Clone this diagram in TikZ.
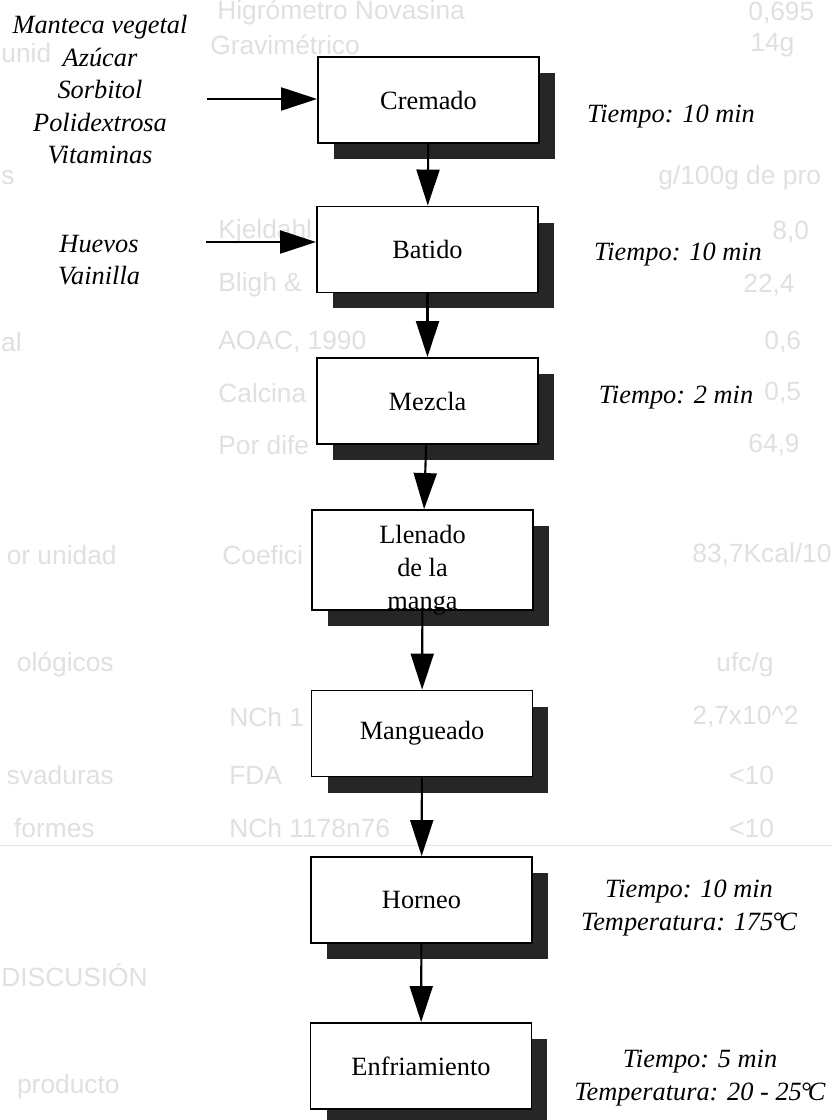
\documentclass[tikz,border=0pt]{standalone}
\usepackage{fontspec}
\setmainfont{Liberation Serif}
\newfontfamily\ghostfont{Liberation Sans}
\usetikzlibrary{arrows.meta,shadows}

\begin{document}
\begin{tikzpicture}[
  x=0.02cm, y=-0.02cm,
  proc/.style={rectangle,draw,line width=1.1pt,fill=white,minimum width=4.42cm,minimum height=1.72cm,align=center,font=\fontsize{15}{18.8}\selectfont,drop shadow={shadow xshift=0.32cm,shadow yshift=-0.32cm,fill=black!85,opacity=1}},
  note/.style={align=center,font=\fontsize{15}{18.5}\selectfont\itshape},
  ghost/.style={text=black!12,font=\ghostfont\fontsize{15}{18}\selectfont,inner sep=0pt},
  flow/.style={line width=1.2pt,-{Triangle[length=0.72cm,width=0.46cm]}}
]
  \fill[white] (0,0) rectangle (832,1120);
  \useasboundingbox (0,0) rectangle (832,1120);

  % faint print showing through the page
  \foreach \gx/\gy/\gt [count=\i] in {217/13/Higrómetro Novasina, 748/13/0{,}695,
      1/53/unid, 210/45/Gravimétrico, 750/45/14g, 658/178/{g/100g de pro},
      218/232/Kjeldahl, 772/232/8{,}0,
      218/285/Bligh \&, 743/285/22{,}4,
      218/342/AOAC{,} 1990, 764/342/0{,}6,
      218/393/Calcina, 764/393/0{,}5,
      218/445/Por dife, 748/445/64{,}9,
      222/555/Coefici, 692/555/{83{,}7Kcal/10},
      716/665/{ufc/g}, 229/717/NCh 1, 692/717/2{,}7x10\textasciicircum 2,
      229/775/FDA, 729/775/<10, 229/828/NCh 1178n76, 729/828/<10,
      1/975/DISCUSIÓN}
    \node[ghost,anchor=west] (gw\i) at (\gx,\gy) {\gt};
  \foreach \gx/\gy/\gt [count=\i] in {15/178/s, 22/342/al,
      117/555/or unidad, 114/665/ológicos, 114/775/svaduras, 95/828/formes,
      120/1087/producto}
    \node[ghost,anchor=east] (ge\i) at (\gx,\gy) {\gt};
  \draw[black!10] (0,845) -- (832,845);

  % process steps
  \node[proc] (cremado) at (428.5,100) {Cremado};
  \node[proc] (batido) at (427.5,249.5) {Batido};
  \node[proc] (mezcla) at (427.5,401) {Mezcla};
  \node[proc,minimum height=2cm,inner ysep=0pt] (llenado) at (422.5,560)
    {\raisebox{-0.2cm}[\height][\depth]{\begin{tabular}{@{}c@{}}Llenado\\de la\\manga\end{tabular}}};
  \node[proc] (mangueado) at (422,733.5) {Mangueado};
  \node[proc] (horneo) at (421.5,900) {Horneo};
  \node[proc] (enfriamiento) at (421,1066) {Enfriamiento};

  \draw[flow] (cremado) -- (batido);
  \draw[flow] (batido) -- (mezcla);
  \draw[flow] (mezcla) -- (llenado);
  \draw[flow] (llenado) -- (mangueado);
  \draw[flow] (mangueado) -- (horneo);
  \draw[flow] (horneo) -- (enfriamiento);

  % inputs
  \node[note] (ing1) at (100,90) {Manteca vegetal\\Azúcar\\Sorbitol\\Polidextrosa\\Vitaminas};
  \node[note] (ing2) at (99,260) {Huevos\\Vainilla};
  \coordinate (in1) at (207,99);
  \coordinate (in2) at (206,242);
  \draw[flow] (in1) -- (in1 -| cremado.west);
  \draw[flow] (in2) -- (in2 -| batido.west);

  % conditions
  \node[note] (t1) at (671,117) {Tiempo: 10 min};
  \node[note] (t2) at (678,255) {Tiempo: 10 min};
  \node[note] (t3) at (676,398) {Tiempo: 2 min};
  \node[note] (t4) at (689,908) {Tiempo: 10 min\\Temperatura: 175\kern-0.05em\textdegree\kern-0.12em C};
  \node[note] (t5) at (700,1078) {Tiempo: 5 min\\Temperatura: 20 - 25\kern-0.05em\textdegree\kern-0.12em C};
\end{tikzpicture}
\end{document}
